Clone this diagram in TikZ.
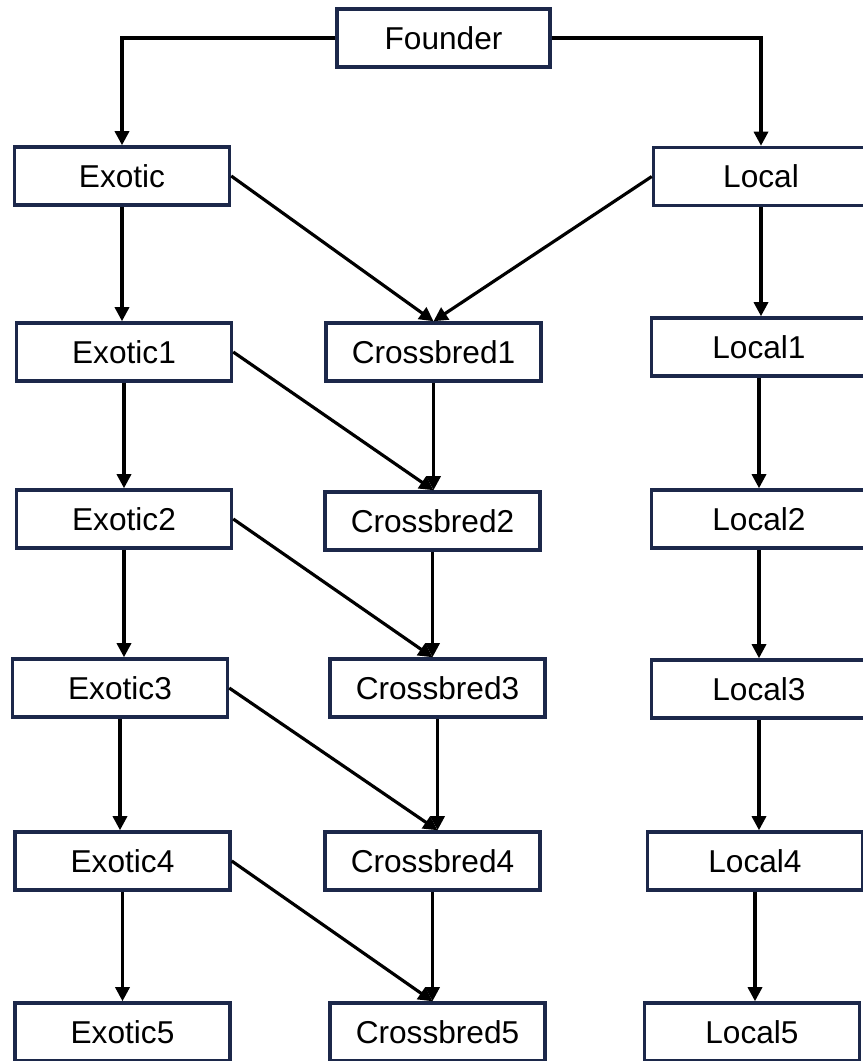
\documentclass[tikz,border=0pt]{standalone}
\usepackage{fontspec}
\setmainfont{Liberation Sans}
\usepackage{xcolor}
\usepackage{tikz}
\usetikzlibrary{arrows.meta,calc}
\definecolor{boxline}{RGB}{28,40,74}
\definecolor{figline}{RGB}{0,0,0}
\tikzset{
  gbox/.style ={draw=boxline, line width=2pt, fill=white, minimum width=4.3cm, minimum height=1.16cm,
                inner sep=0pt, font=\fontsize{18}{21}\selectfont},
  flow/.style ={draw=figline, line width=1.8pt, -{Triangle[length=8pt,width=8pt]}},
}

\begin{document}
\begin{tikzpicture}[x=0.02cm,y=-0.02cm]
  \useasboundingbox (0,0) rectangle (862,1061);
  \node[gbox,minimum width=4.26cm] (Founder) at (443.5,38) {Founder};
  \node[gbox] (Exotic) at (122,176) {Exotic};
  \node[gbox] (Local) at (761,176.5) {Local};
  \node[gbox] (Exotic1) at (124,352) {Exotic1};
  \node[gbox] (Crossbred1) at (433.5,352) {Crossbred1};
  \node[gbox] (Local1) at (759,347) {Local1};
  \node[gbox] (Exotic2) at (124,519) {Exotic2};
  \node[gbox] (Crossbred2) at (432.5,521) {Crossbred2};
  \node[gbox] (Local2) at (759,519) {Local2};
  \node[gbox] (Exotic3) at (120,688) {Exotic3};
  \node[gbox] (Crossbred3) at (437.5,688) {Crossbred3};
  \node[gbox] (Local3) at (759,689) {Local3};
  \node[gbox] (Exotic4) at (122.5,861) {Exotic4};
  \node[gbox] (Crossbred4) at (432.5,861) {Crossbred4};
  \node[gbox] (Local4) at (755,861) {Local4};
  \node[gbox] (Exotic5) at (122.5,1032) {Exotic5};
  \node[gbox] (Crossbred5) at (437.5,1032) {Crossbred5};
  \node[gbox] (Local5) at (752,1032) {Local5};
  % founder split
  \draw[flow] (Founder.west) -| (Exotic.north);
  \draw[flow] (Founder.east) -| (Local.north);
  % first cross
  \draw[flow] (Exotic.east) -- (Crossbred1.north);
  \draw[flow] (Local.west) -- (Crossbred1.north);
  \draw[flow] (Exotic.south) -- (Exotic.south |- Exotic1.north);
  \draw[flow] (Local.south) -- (Local.south |- Local1.north);
  % generations
  \foreach \a/\b in {1/2,2/3,3/4,4/5}{
    \draw[flow] (Exotic\a.south) -- (Exotic\a.south |- Exotic\b.north);
    \draw[flow] (Local\a.south) -- (Local\a.south |- Local\b.north);
    \draw[flow] (Crossbred\a.south) -- (Crossbred\a.south |- Crossbred\b.north);
    \draw[flow] (Exotic\a.east) -- (Crossbred\a.south |- Crossbred\b.north);
  }
\end{tikzpicture}
\end{document}
